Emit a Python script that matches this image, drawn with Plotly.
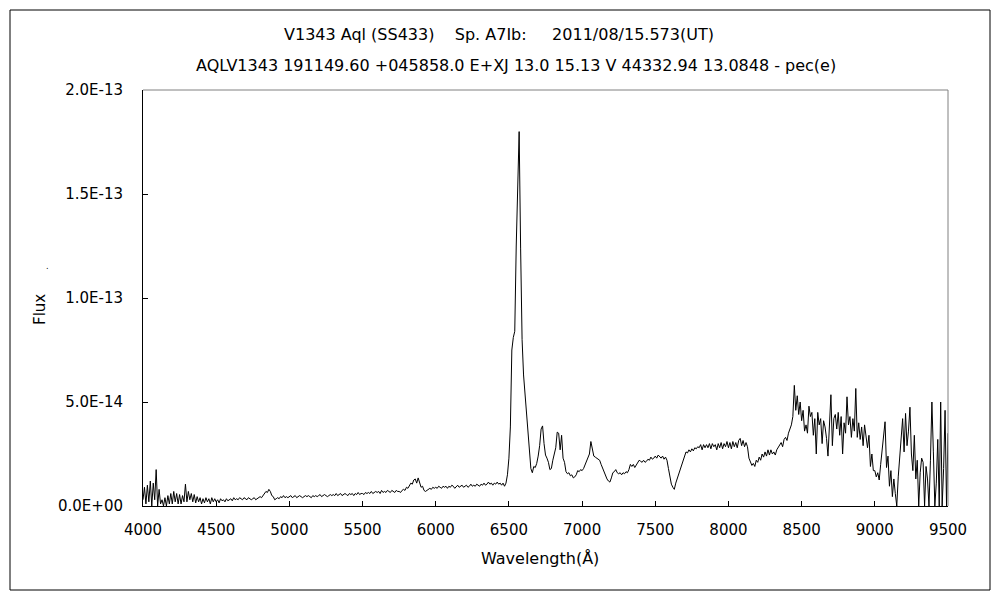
import numpy as np
import plotly.graph_objects as go

# Wavelength grid (Angstrom), 10 A sampling
wavelength = np.arange(4000, 9501, 10)

# Flux in units of 1e-14 erg/s/cm2/A (one row per 100 A)
flux_e14 = [
    0.3, 0.9, 0.1, 1.0, 0.2, 1.2, 0.0, 1.1, 0.3, 1.75,      # 4000
    0.0, 0.8, 0.1, 0.3, 0.0, 0.4, 0.0, 0.5, 0.1, 0.6,       # 4100
    0.1, 0.7, 0.2, 0.6, 0.1, 0.55, 0.1, 0.5, 0.2, 1.05,     # 4200
    0.2, 0.7, 0.3, 0.6, 0.2, 0.55, 0.15, 0.45, 0.2, 0.4,    # 4300
    0.1, 0.35, 0.15, 0.4, 0.2, 0.35, 0.1, 0.4, 0.2, 0.35,   # 4400
    0.2, 0.3, 0.15, 0.35, 0.25, 0.3, 0.2, 0.35, 0.25, 0.3,  # 4500
    0.35, 0.25, 0.4, 0.3, 0.35, 0.3, 0.4, 0.35, 0.3, 0.4,   # 4600
    0.35, 0.3, 0.4, 0.35, 0.3, 0.35, 0.4, 0.3, 0.35, 0.4,   # 4700
    0.45, 0.4, 0.5, 0.55, 0.7, 0.65, 0.8, 0.7, 0.5, 0.45,   # 4800
    0.3, 0.35, 0.4, 0.35, 0.45, 0.4, 0.5, 0.4, 0.45, 0.4,   # 4900
    0.45, 0.5, 0.4, 0.45, 0.5, 0.4, 0.45, 0.5, 0.45, 0.4,   # 5000
    0.45, 0.5, 0.45, 0.5, 0.45, 0.4, 0.5, 0.45, 0.5, 0.45,  # 5100
    0.5, 0.55, 0.45, 0.5, 0.55, 0.5, 0.45, 0.5, 0.55, 0.5,  # 5200
    0.55, 0.5, 0.6, 0.5, 0.55, 0.6, 0.5, 0.55, 0.6, 0.55,   # 5300
    0.5, 0.6, 0.55, 0.6, 0.5, 0.6, 0.55, 0.65, 0.55, 0.6,   # 5400
    0.6, 0.55, 0.65, 0.6, 0.65, 0.6, 0.7, 0.6, 0.65, 0.7,   # 5500
    0.65, 0.7, 0.6, 0.75, 0.65, 0.7, 0.65, 0.75, 0.7, 0.65, # 5600
    0.75, 0.7, 0.65, 0.75, 0.7, 0.7, 0.65, 0.75, 0.8, 0.75, # 5700
    0.9, 0.85, 1.0, 1.1, 1.05, 1.25, 1.3, 1.1, 1.35, 1.1,   # 5800
    0.9, 0.95, 0.75, 0.7, 0.75, 0.8, 0.85, 0.8, 0.9, 0.85,  # 5900
    0.9, 0.85, 0.95, 0.9, 0.85, 0.95, 0.9, 0.95, 0.85, 0.95,  # 6000
    0.9, 1.0, 0.95, 0.85, 0.95, 1.0, 0.9, 0.95, 1.0, 0.9,     # 6100
    0.95, 1.0, 0.9, 0.95, 1.05, 0.95, 1.0, 0.95, 1.05, 1.0,   # 6200
    0.95, 1.05, 1.0, 1.1, 1.0, 1.05, 1.15, 1.05, 1.1, 1.0,    # 6300
    1.1, 1.05, 1.15, 1.05, 1.1, 1.0, 1.1, 0.95, 1.1, 1.5,     # 6400
    2.3, 3.8, 7.5, 8.1, 8.4, 12.5, 15.3, 18.0, 12.4, 8.0,     # 6500
    6.3, 5.3, 4.6, 3.3, 2.4, 1.8, 1.6, 1.9, 1.85, 2.05,       # 6600
    2.4, 2.9, 3.7, 3.85, 3.0, 2.45, 2.3, 2.1, 1.75, 1.8,      # 6700
    2.2, 2.45, 2.8, 3.55, 3.5, 2.7, 3.4, 2.3, 2.1, 1.65,      # 6800
    1.55, 1.6, 1.45, 1.5, 1.35, 1.4, 1.5, 1.7, 1.65, 1.75,    # 6900
    1.7, 1.8, 2.0, 2.2, 2.3, 2.5, 3.1, 2.7, 2.4, 2.35,        # 7000
    2.3, 2.25, 2.2, 2.0, 1.8, 1.65, 1.4, 1.3, 1.2, 1.15,      # 7100
    1.35, 1.6, 1.65, 1.75, 1.6, 1.55, 1.6, 1.5, 1.6, 1.55,    # 7200
    1.65, 1.6, 1.75, 2.0, 1.9, 2.0, 1.85, 1.95, 2.1, 2.2,     # 7300
    2.15, 2.1, 2.2, 2.1, 2.15, 2.25, 2.2, 2.35, 2.25, 2.3,    # 7400
    2.4, 2.3, 2.45, 2.35, 2.3, 2.4, 2.25, 2.35, 2.2, 1.8,     # 7500
    1.4, 1.05, 0.9, 0.8, 1.1, 1.3, 1.6, 1.75, 1.9, 2.2,       # 7600
    2.35, 2.6, 2.55, 2.7, 2.6, 2.75, 2.65, 2.8, 2.75, 2.85,   # 7700
    2.8, 2.95, 2.7, 2.95, 2.8, 2.95, 2.8, 3.0, 2.75, 3.0,     # 7800
    2.85, 2.95, 2.7, 3.0, 2.8, 3.05, 2.75, 3.0, 2.85, 3.1,    # 7900
    2.8, 3.05, 2.75, 3.1, 2.85, 3.05, 2.8, 3.15, 3.25, 2.9,   # 8000
    3.15, 2.85, 3.05, 2.85, 2.3, 2.1, 1.95, 2.05, 1.9, 2.2,   # 8100
    2.1, 2.35, 2.2, 2.5, 2.35, 2.6, 2.4, 2.7, 2.45, 2.7,      # 8200
    2.5, 2.6, 2.45, 2.7, 2.8, 2.95, 3.05, 2.85, 3.2, 3.3,     # 8300
    3.15, 3.5, 3.7, 3.9, 4.3, 5.8, 4.6, 5.3, 4.4, 5.0,        # 8400
    4.1, 4.6, 3.6, 3.9, 3.5, 4.8, 4.3, 4.5, 3.4, 4.2,         # 8500
    2.5, 4.5, 3.9, 4.2, 3.0, 4.1, 3.8, 3.25, 2.4, 3.9,        # 8600
    5.35, 2.9, 4.2, 4.4, 3.7, 4.5, 3.4, 4.3, 2.5, 4.0,        # 8700
    3.5, 5.25, 3.9, 4.3, 3.3, 4.2, 3.6, 5.65, 3.3, 4.0,       # 8800
    3.2, 3.8, 2.9, 3.9, 3.3, 2.8, 3.4, 1.9, 2.5, 1.7,         # 8900
    1.7, 1.4, 1.6, 1.25, 2.0, 2.7, 3.35, 4.05, 1.85, 2.4,     # 9000
    0.95, 1.7, 0.45, 1.3, 0.6, 0.0, 1.4, 2.3, 3.0, 4.2,       # 9100
    2.6, 4.45, 2.9, 3.6, 4.75, 2.5, 1.7, 3.4, 1.3, 2.2,       # 9200
    0.0, 1.6, 2.3, 2.1, 0.0, 1.9, 1.3, 0.0, 2.2, 5.0,         # 9300
    2.6, 0.0, 1.1, 3.2, 0.0, 5.0, 0.0, 1.8, 4.6, 0.0,         # 9400
    3.5,                                                      # 9500
]

x_ticks = [4000, 4500, 5000, 5500, 6000, 6500, 7000, 7500, 8000, 8500, 9000, 9500]
y_tick_vals = [0.0, 5.0e-14, 1.0e-13, 1.5e-13, 2.0e-13]
y_tick_text = ["0.0E+00", "5.0E-14", "1.0E-13", "1.5E-13", "2.0E-13"]

title_line1 = "V1343 Aql (SS433)\u00a0\u00a0\u00a0\u00a0Sp. A7Ib:\u00a0\u00a0\u00a0\u00a0\u00a02011/08/15.573(UT)"
title_line2 = "AQLV1343 191149.60 +045858.0 E+XJ 13.0 15.13 V 44332.94 13.0848 - pec(e)"
x_title = "Wavelength(Å)"
y_title = "Flux"

flux = np.array(flux_e14) * 1e-14

FONT = "DejaVu Sans"

fig = go.Figure()
fig.add_trace(go.Scatter(
    x=wavelength, y=flux, mode="lines",
    line=dict(color="black", width=1),
    hoverinfo="skip", showlegend=False,
))

# The page body adds an 8 px offset; margins compensate so the plot area
# lands at window pixels x 143-948, y 90-506.
fig.update_layout(
    width=1000, height=600,
    margin=dict(l=135, r=60, t=82, b=102),
    paper_bgcolor="white", plot_bgcolor="white",
    font=dict(family=FONT, size=15, color="black"),
    showlegend=False,
)

fig.update_xaxes(
    range=[4000, 9500], tickvals=x_ticks, ticktext=[str(v) for v in x_ticks],
    ticks="inside", ticklen=5, tickcolor="black", tickwidth=1,
    showline=True, linecolor="black", linewidth=1, showgrid=False, zeroline=False,
    ticklabelstandoff=10,
)
fig.update_yaxes(
    range=[0, 2.0e-13], tickvals=y_tick_vals, ticktext=y_tick_text,
    ticks="inside", ticklen=5, tickcolor="black", tickwidth=1,
    showline=True, linecolor="black", linewidth=1, showgrid=False, zeroline=False,
    ticklabelstandoff=16,
)

# Gray top and right frame of the plot area
fig.add_shape(type="line", xref="paper", yref="paper", x0=0, x1=1, y0=1, y1=1,
              line=dict(color="#808080", width=1))
fig.add_shape(type="line", xref="paper", yref="paper", x0=1, x1=1, y0=0, y1=1,
              line=dict(color="#808080", width=1))

def px(xp):
    return (xp - 143) / 805

def py(yp):
    return (506 - yp) / 416

# Outer border of the whole chart
fig.add_shape(type="rect", xref="paper", yref="paper",
              x0=px(10), x1=px(990), y0=py(590), y1=py(10),
              line=dict(color="black", width=1), fillcolor="rgba(0,0,0,0)")

ann = dict(xref="paper", yref="paper", showarrow=False)
tfont = dict(family=FONT, size=16, color="black")
fig.add_annotation(text=title_line1, x=px(498.5), y=py(35), xanchor="center", yanchor="middle", font=tfont, **ann)
fig.add_annotation(text=title_line2, x=px(516), y=py(66), xanchor="center", yanchor="middle", font=tfont, **ann)
fig.add_annotation(text=x_title, x=px(540), y=py(558), xanchor="center", yanchor="middle", font=tfont, **ann)
fig.add_annotation(text=y_title, x=px(40), y=py(310), xanchor="center", yanchor="middle", textangle=-90,
                   font=dict(family=FONT, size=15, color="black"), **ann)
fig.add_annotation(text=".", x=px(47), y=py(266), xanchor="center", yanchor="middle",
                   font=dict(family=FONT, size=8, color="black"), **ann)

fig.write_html("out.html")
